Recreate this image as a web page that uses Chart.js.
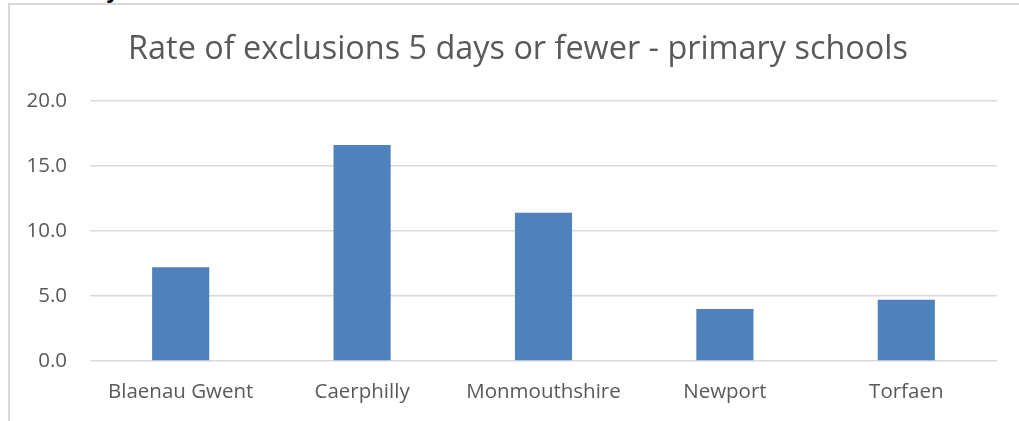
<!DOCTYPE html>
<html lang="en">
<head>
    <meta charset="UTF-8">
    <title>Rate of exclusions 5 days or fewer - primary schools</title>
    <script src="https://cdn.jsdelivr.net/npm/chart.js"></script>
    <style>
        body {
            margin: 0;
            padding: 0;
            background: #ffffff;
            overflow: hidden;
        }
        .page {
            position: relative;
            width: 1019px;
            height: 421px;
            overflow: hidden;
        }
        .frame {
            position: absolute;
            left: 8px;
            top: 3px;
            width: 1100px;
            height: 500px;
            border: 2px solid #d9d9d9;
        }
        .cut {
            position: absolute;
            left: 106px;
            top: -24px;
            font: bold 24px 'Liberation Sans', sans-serif;
            color: #000;
        }
        .chart-box {
            position: absolute;
            left: 0;
            top: 0;
            width: 1019px;
            height: 421px;
        }
    </style>
</head>
<body>
    <div class="page">
        <div class="frame"></div>
        <span class="cut">y</span>
        <div class="chart-box">
            <canvas id="exclusionsChart" width="1019" height="421"></canvas>
        </div>
    </div>
    <script>
        // data
        const authorities = ['Blaenau Gwent', 'Caerphilly', 'Monmouthshire', 'Newport', 'Torfaen'];
        const exclusionRates = [7.2, 16.6, 11.4, 4.0, 4.7];
        const yTicks = [0, 5, 10, 15, 20];

        const textGrey = '#595959';
        const fontFamily = "'Open Sans', 'Liberation Sans', sans-serif";

        // the original title is centred on a frame wider than the picture
        const titleShift = {
            id: 'titleShift',
            afterLayout(chart) {
                const t = chart.titleBlock;
                if (t) {
                    t.left += 11;
                    t.right += 11;
                }
            }
        };

        new Chart(document.getElementById('exclusionsChart'), {
            type: 'bar',
            data: {
                labels: authorities,
                datasets: [{
                    label: 'Rate',
                    data: exclusionRates,
                    backgroundColor: '#4f81bd',
                    borderWidth: 0,
                    categoryPercentage: 1.0,
                    barPercentage: 0.315
                }]
            },
            options: {
                responsive: false,
                animation: false,
                devicePixelRatio: 1,
                layout: {
                    padding: { left: 17, right: 22, top: 0, bottom: 0 }
                },
                plugins: {
                    legend: { display: false },
                    tooltip: { enabled: false },
                    title: {
                        display: true,
                        text: 'Rate of exclusions 5 days or fewer - primary schools',
                        color: textGrey,
                        font: { family: fontFamily, size: 32.4, weight: 'normal' },
                        padding: { top: 30, bottom: 32 }
                    }
                },
                scales: {
                    x: {
                        grid: { display: false, drawTicks: false },
                        border: { display: false },
                        ticks: {
                            color: textGrey,
                            font: { family: fontFamily, size: 20.5 },
                            padding: 19,
                            maxRotation: 0
                        },
                        afterFit: (scale) => { scale.height = 60; }
                    },
                    y: {
                        min: 0,
                        max: 20,
                        afterBuildTicks: (scale) => {
                            scale.ticks = yTicks.map(v => ({ value: v }));
                        },
                        grid: { color: '#d9d9d9', lineWidth: 1.5, drawTicks: false },
                        border: { display: false },
                        ticks: {
                            color: textGrey,
                            font: { family: fontFamily, size: 20.5 },
                            padding: 23,
                            callback: (v) => Number(v).toFixed(1)
                        },
                        afterFit: (scale) => { scale.width = 73; }
                    }
                }
            },
            plugins: [titleShift]
        });
    </script>
</body>
</html>
